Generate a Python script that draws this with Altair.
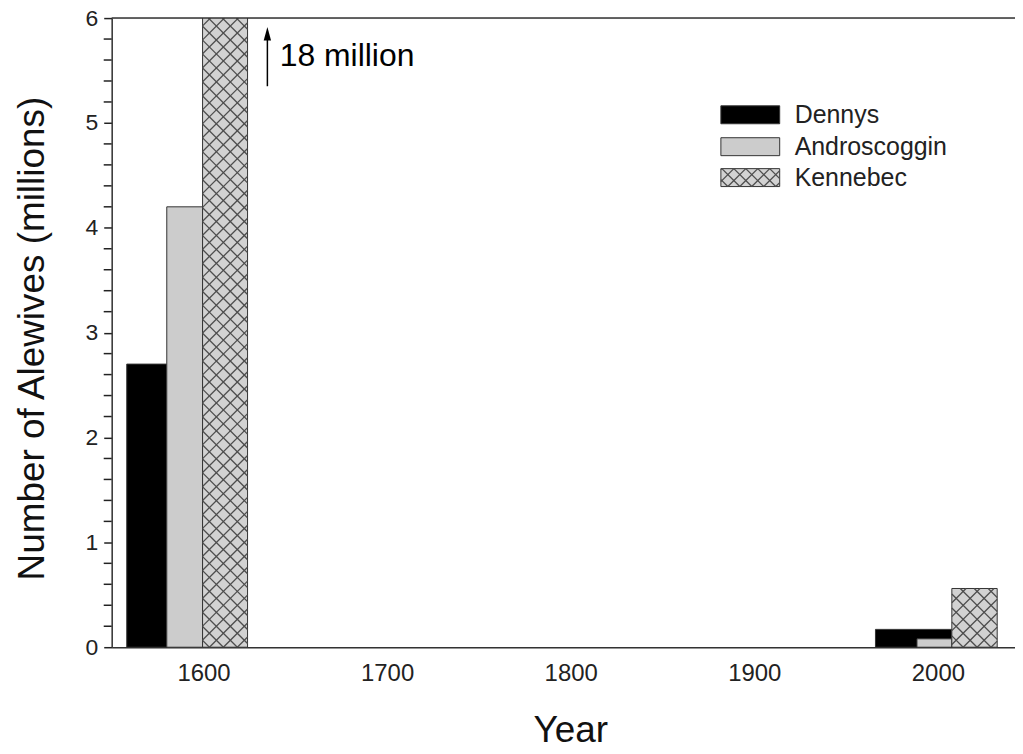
import altair as alt
import pandas as pd
import math

# ---- data ----
series = ["Dennys", "Androscoggin", "Kennebec"]
bar_series = ["Dennys", "Dennys", "Androscoggin", "Androscoggin", "Kennebec", "Kennebec"]
bar_start = [1558.2, 1966.0, 1580.0, 1988.6, 1599.5, 2007.6]
bar_end = [1580.0, 2007.6, 1599.5, 2007.6, 1624.0, 2032.3]
bar_value = [2.70, 0.17, 4.20, 0.08, 18.0, 0.56]
x_ticks = [1600, 1700, 1800, 1900, 2000]
y_major = [0, 1, 2, 3, 4, 5, 6]
y_minor = [round(i * 0.2, 1) for i in range(31) if i % 5 != 0]
note_text = "18 million"

# ---- layout ----
W, H = 906, 631
XMIN, XMAX, YMAX = 1550, 2042, 6
kx = W / (XMAX - XMIN)
ky = H / YMAX
TICK = 8
FONT = "Liberation Sans"
fills = {"Dennys": "#000000", "Androscoggin": "#cccccc", "Kennebec": "#d2d2d2"}

xs = alt.Scale(domain=[XMIN, XMAX], nice=False, zero=False)
ys = alt.Scale(domain=[0, YMAX], nice=False)

bars = pd.DataFrame({"series": bar_series, "x0": bar_start, "x1": bar_end,
                     "v": bar_value, "base": [0.0] * len(bar_value)})
bars["fill"] = bars["series"].map(fills)


def hatch(X0, X1, Yb, Yt, d=14.0):
    """45-degree cross-hatch segments inside a pixel rectangle (Y upward)."""
    segs = []
    lo_c, hi_c = X0 - Yt, X1 - Yb
    k = math.floor(lo_c / d)
    while k * d <= hi_c:
        c = k * d
        lo = max(X0, c + Yb)
        hi = min(X1, c + Yt)
        if hi - lo > 0.5:
            segs.append((lo, lo - c, hi, hi - c))
        k += 1
    lo_c, hi_c = X0 + Yb, X1 + Yt
    k = math.floor(lo_c / d)
    while k * d <= hi_c:
        c = k * d
        lo = max(X0, c - Yt)
        hi = min(X1, c - Yb)
        if hi - lo > 0.5:
            segs.append((lo, c - lo, hi, c - hi))
        k += 1
    return segs


def to_data(segs):
    return [{"hx": XMIN + p / kx, "hy": q / ky, "hx2": XMIN + r / kx, "hy2": t / ky}
            for (p, q, r, t) in segs]


bar_rows = []
for s, a, b, v in zip(bar_series, bar_start, bar_end, bar_value):
    if s != "Kennebec":
        continue
    X0, X1 = (a - XMIN) * kx, (b - XMIN) * kx
    Yt = min(v, YMAX) * ky
    bar_rows += to_data(hatch(X0, X1, 0.0, Yt))
bar_hatch = pd.DataFrame(bar_rows)

# legend (pixel layout relative to plot origin, converted to data units)
LX0, LX1 = 611, 670
LROW_TOP = [88, 120, 151]
LBOX_H = 18
leg = []
for name, top in zip(series, LROW_TOP):
    leg.append({"series": name, "fill": fills[name],
                "lx0": XMIN + LX0 / kx, "lx1": XMIN + LX1 / kx,
                "ly0": (H - top - LBOX_H) / ky, "ly1": (H - top) / ky,
                "tx": XMIN + (LX0 + 74) / kx, "ty": (H - top - LBOX_H / 2) / ky})
leg = pd.DataFrame(leg)
leg_hatch = pd.DataFrame(to_data(hatch(LX0, LX1, H - LROW_TOP[2] - LBOX_H, H - LROW_TOP[2], d=12.0)))

bar_layer = alt.Chart(bars).mark_rect(stroke="#333333", strokeWidth=1, clip=True).encode(
    x=alt.X("x0:Q", scale=xs,
            axis=alt.Axis(values=x_ticks, format="d", ticks=False, grid=False,
                          domainColor="#333333", domainWidth=1.5,
                          labelFont=FONT, labelFontSize=24, labelColor="#222222",
                          labelPadding=14, title="Year", titleFont=FONT,
                          titleFontSize=37, titleFontWeight="normal", titleColor="#111111",
                          titleX=460, titleY=84, titleBaseline="middle")),
    x2="x1:Q",
    y=alt.Y("base:Q", scale=ys,
            axis=alt.Axis(values=y_major, format="d", grid=False, tickSize=TICK,
                          tickColor="#222222", tickWidth=1.5,
                          domainColor="#333333", domainWidth=1.5, labelOverlap=False,
                          labelFont=FONT, labelFontSize=23, labelColor="#222222",
                          labelPadding=6,
                          title="Number of Alewives (millions)", titleFont=FONT,
                          titleFontSize=37, titleFontWeight="normal", titleColor="#111111",
                          titleAngle=-90, titleX=-79, titleY=321,
                          titleBaseline="middle", titleAlign="center")),
    y2="v:Q",
    fill=alt.Fill("fill:N", scale=None),
)

minor_df = pd.DataFrame({"m": y_minor})
minor_df["mx0"] = XMIN - TICK / kx
minor_df["mx1"] = XMIN
minor_ticks = alt.Chart(minor_df).mark_rule(color="#222222", strokeWidth=1.5,
                                            opacity=1, clip=False).encode(
    y=alt.Y("m:Q", scale=ys), x=alt.X("mx0:Q", scale=xs), x2="mx1:Q"
)


def hatch_layer(df):
    return alt.Chart(df).mark_rule(color="#4d4d4d", strokeWidth=1.3, clip=True).encode(
        x=alt.X("hx:Q", scale=xs), y=alt.Y("hy:Q", scale=ys),
        x2="hx2:Q", y2="hy2:Q",
    )


top_line = alt.Chart(pd.DataFrame({"t": [YMAX]})).mark_rule(color="#333333", strokeWidth=1.5).encode(
    y=alt.Y("t:Q", scale=ys)
)

leg_box = alt.Chart(leg).mark_rect(stroke="#333333", strokeWidth=1).encode(
    x=alt.X("lx0:Q", scale=xs), x2="lx1:Q",
    y=alt.Y("ly0:Q", scale=ys), y2="ly1:Q",
    fill=alt.Fill("fill:N", scale=None),
)
leg_text = alt.Chart(leg).mark_text(align="left", baseline="middle", font=FONT,
                                    fontSize=25, color="#222222").encode(
    x=alt.X("tx:Q", scale=xs), y=alt.Y("ty:Q", scale=ys), text="series:N"
)

# arrow annotation for the clipped Kennebec bar
ann = pd.DataFrame({"ax": [1634.8], "ay0": [5.35], "ay1": [5.82],
                    "tip": [5.85], "tx": [1641.5], "ty": [5.64], "label": [note_text]})
arrow_shaft = alt.Chart(ann).mark_rule(color="#000000", strokeWidth=1.5).encode(
    x=alt.X("ax:Q", scale=xs), y=alt.Y("ay0:Q", scale=ys), y2="ay1:Q"
)
arrow_head = alt.Chart(ann).mark_point(
    shape="M-0.55,1 L0,-1 L0.55,1 Z", filled=True, color="#000000",
    size=180, opacity=1).encode(
    x=alt.X("ax:Q", scale=xs), y=alt.Y("tip:Q", scale=ys)
)
arrow_text = alt.Chart(ann).mark_text(align="left", baseline="middle", font=FONT,
                                      fontSize=32, color="#000000").encode(
    x=alt.X("tx:Q", scale=xs), y=alt.Y("ty:Q", scale=ys), text="label:N"
)

chart = alt.layer(
    bar_layer, minor_ticks, hatch_layer(bar_hatch), top_line, leg_box, hatch_layer(leg_hatch),
    leg_text, arrow_shaft, arrow_head, arrow_text
).properties(
    width=W, height=H,
    autosize=alt.AutoSizeParams(type="none"),
    padding={"left": 104, "top": 9, "right": 0, "bottom": 105},
).configure_view(stroke=None).configure(background="white")

chart.save("out.html", embed_options={"renderer": "svg", "actions": False})
